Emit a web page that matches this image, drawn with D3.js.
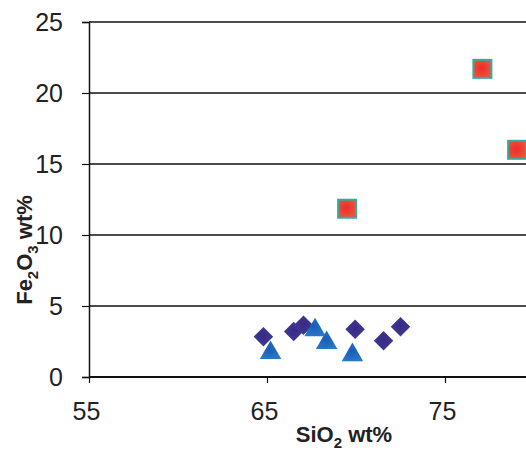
<!DOCTYPE html>
<html><head><meta charset="utf-8">
<script src="https://cdn.jsdelivr.net/npm/d3@7"></script>
<style>body{margin:0;background:#fff}svg{display:block}</style>
</head><body>
<script>
const xTicks = [55, 65, 75];
const yTicks = [0, 5, 10, 15, 20, 25];
const diamondX = [64.8, 66.5, 67.05, 69.95, 71.55, 72.5];
const diamondY = [2.84, 3.2, 3.65, 3.36, 2.56, 3.54];
const triangleX = [65.2, 67.7, 68.35, 69.8];
const triangleY = [1.7, 3.3, 2.4, 1.55];
const squareX = [69.5, 77.1, 79.05];
const squareY = [11.85, 21.7, 16.0];

const W = 526, H = 451;
const FONT = "Liberation Sans, Arial, sans-serif";
const svg = d3.select("body").append("svg").attr("width", W).attr("height", H);
const defs = svg.append("defs");
function grad(id, c1, c2){
  const g = defs.append("radialGradient").attr("id", id).attr("cx","45%").attr("cy","45%").attr("r","65%");
  g.append("stop").attr("offset","0%").attr("stop-color", c1);
  g.append("stop").attr("offset","100%").attr("stop-color", c2);
}
grad("gd", "#3c2688", "#3a3a8c");
grad("gt", "#1a5cb8", "#2a7ac8");
grad("gs", "#f02a2a", "#e85a3a");

const x = d3.scaleLinear().domain([55, 75]).range([89, 445]);
const y = d3.scaleLinear().domain([0, 25]).range([377, 22]);

// gridlines
svg.append("g").selectAll("line").data(yTicks.filter(d => d > 0)).join("line")
  .attr("x1", 89).attr("x2", W).attr("y1", d => y(d)).attr("y2", d => y(d))
  .attr("stroke", "#111").attr("stroke-width", 1.5);

// y axis
const ya = svg.append("g").attr("transform", "translate(89,0)")
  .call(d3.axisLeft(y).tickValues(yTicks).tickSize(7).tickPadding(19));
ya.select(".domain").attr("stroke", "#111").attr("stroke-width", 1.5);
ya.selectAll(".tick line").attr("stroke", "#111").attr("stroke-width", 1.2);
ya.selectAll("text").attr("font-family", FONT).attr("font-size", 25).attr("fill", "#222");

// x axis
const xa = svg.append("g").attr("transform", "translate(0,377)")
  .call(d3.axisBottom(x).tickValues(xTicks).tickSize(6).tickPadding(19));
xa.select(".domain").remove();
svg.append("line").attr("x1", 89).attr("x2", W).attr("y1", 377).attr("y2", 377).attr("stroke", "#111").attr("stroke-width", 2);
xa.selectAll(".tick line").attr("stroke", "#111").attr("stroke-width", 1.2);
xa.selectAll("text").attr("font-family", FONT).attr("font-size", 25).attr("fill", "#222").attr("dx", -3);

// markers
svg.append("g").selectAll("path").data(diamondX.map((v, i) => [v, diamondY[i]])).join("path")
  .attr("d", d3.symbol().type(d3.symbolSquare).size(190)())
  .attr("transform", d => `translate(${x(d[0])},${y(d[1])}) rotate(45)`)
  .attr("fill", "url(#gd)");
svg.append("g").selectAll("path").data(triangleX.map((v, i) => [v, triangleY[i]])).join("path")
  .attr("d", d3.symbol().type(d3.symbolTriangle).size(200)())
  .attr("transform", d => `translate(${x(d[0])},${y(d[1])})`)
  .attr("fill", "url(#gt)");
svg.append("g").selectAll("rect").data(squareX.map((v, i) => [v, squareY[i]])).join("rect")
  .attr("x", d => x(d[0]) - 9).attr("y", d => y(d[1]) - 9).attr("width", 18).attr("height", 18)
  .attr("fill", "url(#gs)").attr("stroke", "#3aa8a0").attr("stroke-width", 2);

// titles
const xt = svg.append("text").attr("x", 344).attr("y", 442).attr("text-anchor", "middle")
  .attr("font-family", FONT).attr("font-weight", "bold").attr("font-size", 22).attr("fill", "#222");
xt.append("tspan").text("SiO");
xt.append("tspan").attr("font-size", 15).attr("dy", 6).text("2");
xt.append("tspan").attr("dy", -6).text(" wt%");

const yt = svg.append("text").attr("transform", "translate(32,250) rotate(-90)").attr("text-anchor", "middle")
  .attr("font-family", FONT).attr("font-weight", "bold").attr("font-size", 22).attr("fill", "#222");
yt.append("tspan").text("Fe");
yt.append("tspan").attr("font-size", 15).attr("dy", 6).text("2");
yt.append("tspan").attr("dy", -6).text("O");
yt.append("tspan").attr("font-size", 15).attr("dy", 6).text("3");
yt.append("tspan").attr("dy", -6).text(" wt%");
</script>
</body></html>
